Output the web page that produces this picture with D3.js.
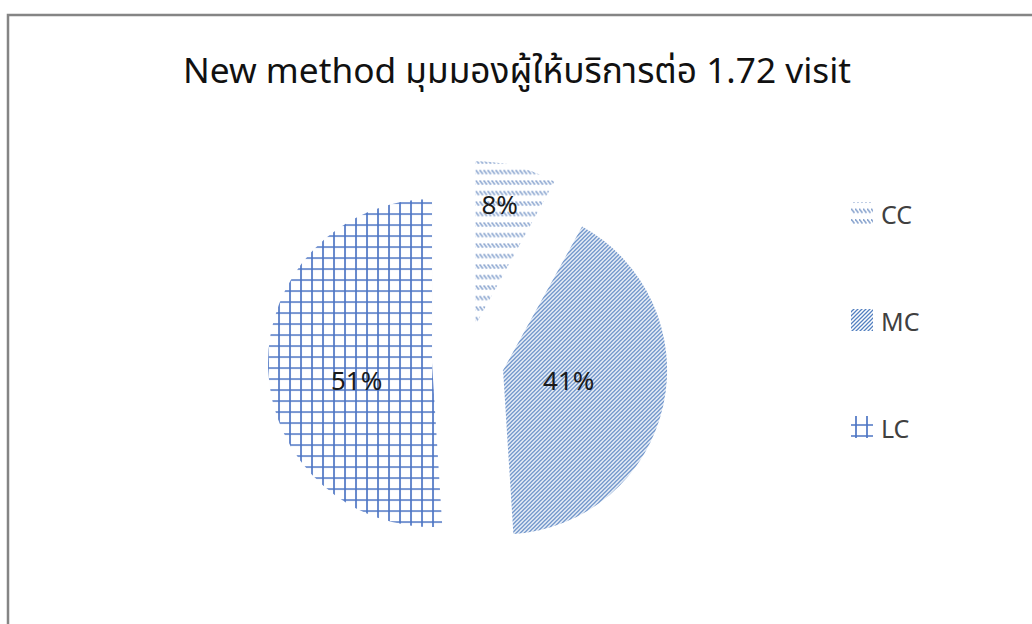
<!DOCTYPE html>
<html>
<head>
<meta charset="utf-8">
<script src="https://cdn.jsdelivr.net/npm/d3@7"></script>
<style>
  html, body { margin: 0; padding: 0; background: #fff; }
  svg { display: block; }
  text { font-family: "Noto Sans", "Noto Sans Thai", "Open Sans", sans-serif; }
</style>
</head>
<body>
<svg id="chart" width="1032" height="624"></svg>
<script>
// Data
const categories = ["CC", "MC", "LC"];
const shares = [8, 41, 51];
const shareLabels = ["8%", "41%", "51%"];
const titleText = "New method มุมมองผู้ให้บริการต่อ 1.72 visit";

// Layout
const W = 1032, H = 624;
const pieCenter = [466, 362];
const radius = 164;
const explode = [38, 38, 34];           // per-slice pull-out distance
const labelRadius = [0.74, 0.41, 0.46]; // fraction of radius for labels
const labelNudge = [[-6, -4], [0, -5], [0, 15]];

const svg = d3.select("#chart");
svg.append("rect").attr("width", W).attr("height", H).attr("fill", "#fff");

// Hatch patterns (one set for the pie, one offset set for the legend swatches)
const defs = svg.append("defs");
function makePatterns(prefix, ox, oy) {
  const pcc = defs.append("pattern").attr("id", prefix + "-cc")
    .attr("patternUnits", "userSpaceOnUse").attr("width", 4).attr("height", 10.5)
    .attr("x", ox).attr("y", oy + 2);
  pcc.append("path").attr("d", "M0,0 L3.5,4.5").attr("stroke", "#8aa5cf")
    .attr("stroke-width", 1.6).attr("fill", "none");

  const pmc = defs.append("pattern").attr("id", prefix + "-mc")
    .attr("patternUnits", "userSpaceOnUse").attr("width", 4).attr("height", 4)
    .attr("x", ox).attr("y", oy);
  pmc.append("path").attr("d", "M-1,1 L1,-1 M0,4 L4,0 M3,5 L5,3")
    .attr("stroke", "#5380c0").attr("stroke-width", 1.25).attr("fill", "none");

  const plc = defs.append("pattern").attr("id", prefix + "-lc")
    .attr("patternUnits", "userSpaceOnUse").attr("width", 11).attr("height", 11)
    .attr("x", ox).attr("y", oy + 4);
  plc.append("path").attr("d", "M1,0 V11 M0,1 H11")
    .attr("stroke", "#4d75c4").attr("stroke-width", 1.7).attr("fill", "none");
  return [prefix + "-cc", prefix + "-mc", prefix + "-lc"];
}
const piePatterns = makePatterns("pie", 0, 0);
const keyPatterns = makePatterns("key", 4, 4);

// Frame
svg.append("path").attr("d", `M8,${H} V15 H${W}`)
  .attr("fill", "none").attr("stroke", "#858585").attr("stroke-width", 2.5);

// Title, fitted to its width
const title = svg.append("text").attr("x", W / 2 + 1).attr("y", 83)
  .attr("text-anchor", "middle").attr("fill", "#111").attr("font-size", 34)
  .text(titleText);
const tl = title.node().getComputedTextLength();
title.attr("font-size", 34 * 668 / tl);

// Pie
const pie = d3.pie().sort(null).value(d => d).startAngle(0).endAngle(2 * Math.PI);
const arcs = pie(shares);
const arc = d3.arc().innerRadius(0).outerRadius(radius);

const g = svg.append("g").attr("transform", `translate(${pieCenter[0]},${pieCenter[1]})`);
const slices = g.selectAll("g.slice").data(arcs).join("g")
  .attr("class", "slice")
  .attr("transform", (d, i) => {
    const a = (d.startAngle + d.endAngle) / 2;
    return `translate(${Math.sin(a) * explode[i]},${-Math.cos(a) * explode[i]})`;
  });

slices.append("path").attr("d", arc).attr("fill", (d, i) => `url(#${piePatterns[i]})`);

slices.append("text")
  .attr("transform", (d, i) => {
    const a = (d.startAngle + d.endAngle) / 2;
    const r = radius * labelRadius[i];
    return `translate(${Math.sin(a) * r + labelNudge[i][0]},${-Math.cos(a) * r + labelNudge[i][1]})`;
  })
  .attr("text-anchor", "middle").attr("dominant-baseline", "central")
  .attr("font-size", 26).attr("fill", "#1a1a1a")
  .text((d, i) => shareLabels[i]);

// Legend
const legend = svg.append("g").attr("transform", "translate(851,213)");
const items = legend.selectAll("g").data(categories).join("g")
  .attr("transform", (d, i) => `translate(0,${i * 107})`);
items.append("rect").attr("x", 0).attr("y", -11).attr("width", 22).attr("height", 22)
  .attr("fill", (d, i) => `url(#${keyPatterns[i]})`);
items.append("text").attr("x", 30).attr("y", 1).attr("dominant-baseline", "central")
  .attr("font-size", 25).attr("fill", "#404040").text(d => d);
</script>
</body>
</html>
